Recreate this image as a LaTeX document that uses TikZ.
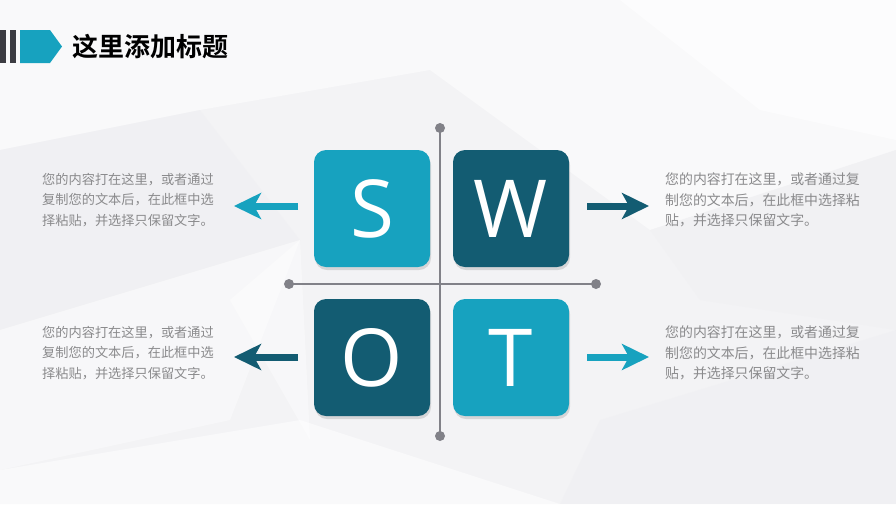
\documentclass[tikz,border=0pt]{standalone}
\usepackage{fontspec}
\newfontfamily\cjk{Noto Sans CJK SC}
\newfontfamily\cjkbold{Noto Sans CJK SC Bold}
\newfontfamily\letterfont{Open Sans}
\usetikzlibrary{arrows.meta}
\definecolor{lightc}{HTML}{17A2BF}
\definecolor{darkc}{HTML}{135C72}
\definecolor{axisgray}{HTML}{818188}
\definecolor{txtgray}{HTML}{8A8A8C}
\definecolor{bargray}{HTML}{3C3C42}
\definecolor{bgbase}{HTML}{F3F3F5}
\definecolor{bglight}{HTML}{F9F9FA}
\definecolor{bgmid}{HTML}{EDEDF0}
\begin{document}
\begin{tikzpicture}[x=1pt,y=-1pt,
  sq/.style={rounded corners=12pt, minimum width=116pt, minimum height=117pt, inner sep=0pt,
    font=\letterfont\fontsize{80}{80}\selectfont, text=white},
  shadowsq/.style={fill=black, opacity=0.12, rounded corners=12pt},
  axis/.style={draw=axisgray, line width=2pt},
  dot/.style={circle, fill=axisgray, inner sep=0pt, minimum size=10pt},
  bigarrow/.style={line width=7pt, -{Stealth[length=27pt,width=26pt,inset=7pt]}},
  desc/.style={anchor=north west, inner sep=0pt, align=left, text=txtgray}]
% background
\fill[bgbase] (0,0) rectangle (896,504);
\fill[bglight] (0,0) -- (896,0) -- (896,150) -- (650,230) -- (430,70) -- (200,110) -- (0,150) -- cycle;
\fill[white, opacity=0.6] (620,0) -- (896,0) -- (896,140) -- (760,110) -- cycle;
\fill[bgmid, opacity=0.35] (0,150) -- (200,110) -- (300,240) -- (0,330) -- cycle;
\fill[bglight] (0,470) -- (300,420) -- (560,504) -- (0,504) -- cycle;
\fill[bgmid, opacity=0.35] (600,420) -- (896,330) -- (896,504) -- (560,504) -- cycle;
\fill[white, opacity=0.4] (230,300) -- (300,240) -- (310,440) -- cycle;
\fill[bgmid, opacity=0.3] (650,230) -- (896,150) -- (896,330) -- (700,300) -- cycle;
\fill[white, opacity=0.4] (0,330) -- (300,240) -- (230,420) -- (0,470) -- cycle;

% header
\fill[bargray] (0,30) rectangle (6,63);
\fill[bargray] (10,30) rectangle (16,63);
\fill[lightc] (20,30) -- (50,30) -- (62,46.5) -- (50,63) -- (20,63) -- cycle;
\node[anchor=west, inner sep=0pt, font=\cjkbold\fontsize{26}{26}\selectfont] (title) at (72,47) {这里添加标题};

% axes
\node[dot] (vt) at (440,128) {};
\node[dot] (vb) at (440,436) {};
\node[dot] (hl) at (289,284) {};
\node[dot] (hr) at (596,284) {};
\draw[axis] (vt.center) -- (vb.center);
\draw[axis] (hl.center) -- (hr.center);

% shadows
\fill[shadowsq] (315,153) rectangle (431,270);
\fill[shadowsq] (454,153) rectangle (570,270);
\fill[shadowsq] (315,302) rectangle (431,419);
\fill[shadowsq] (454,302) rectangle (570,419);

% squares
\node[sq, fill=lightc] (S) at (372,208.5) {S};
\node[sq, fill=darkc]  (W) at (511,208.5) {W};
\node[sq, fill=darkc]  (O) at (372,357.5) {O};
\node[sq, fill=lightc] (T) at (511,357.5) {T};

% arrows
\coordinate (sa) at (298,206);
\coordinate (sb) at (234,206);
\coordinate (wa) at (587,206);
\coordinate (wb) at (649,206);
\coordinate (oa) at (298,357);
\coordinate (ob) at (234,357);
\coordinate (ta) at (587,357);
\coordinate (tb) at (649,357);
\draw[bigarrow, draw=lightc, fill=lightc] (sa) -- (sb);
\draw[bigarrow, draw=darkc, fill=darkc] (wa) -- (wb);
\draw[bigarrow, draw=darkc, fill=darkc] (oa) -- (ob);
\draw[bigarrow, draw=lightc, fill=lightc] (ta) -- (tb);

% descriptions
\node[desc, font=\cjk\fontsize{13.2}{20.5}\selectfont] (ds) at (42,173) {您的内容打在这里，或者通过\\复制您的文本后，在此框中选\\择粘贴，并选择只保留文字。};
\node[desc, font=\cjk\fontsize{13.9}{20.5}\selectfont] (dw) at (665,173) {您的内容打在这里，或者通过复\\制您的文本后，在此框中选择粘\\贴，并选择只保留文字。};
\node[desc, font=\cjk\fontsize{13.2}{20.5}\selectfont] (do) at (42,326) {您的内容打在这里，或者通过\\复制您的文本后，在此框中选\\择粘贴，并选择只保留文字。};
\node[desc, font=\cjk\fontsize{13.9}{20.5}\selectfont] (dt) at (665,326) {您的内容打在这里，或者通过复\\制您的文本后，在此框中选择粘\\贴，并选择只保留文字。};
\end{tikzpicture}
\end{document}
